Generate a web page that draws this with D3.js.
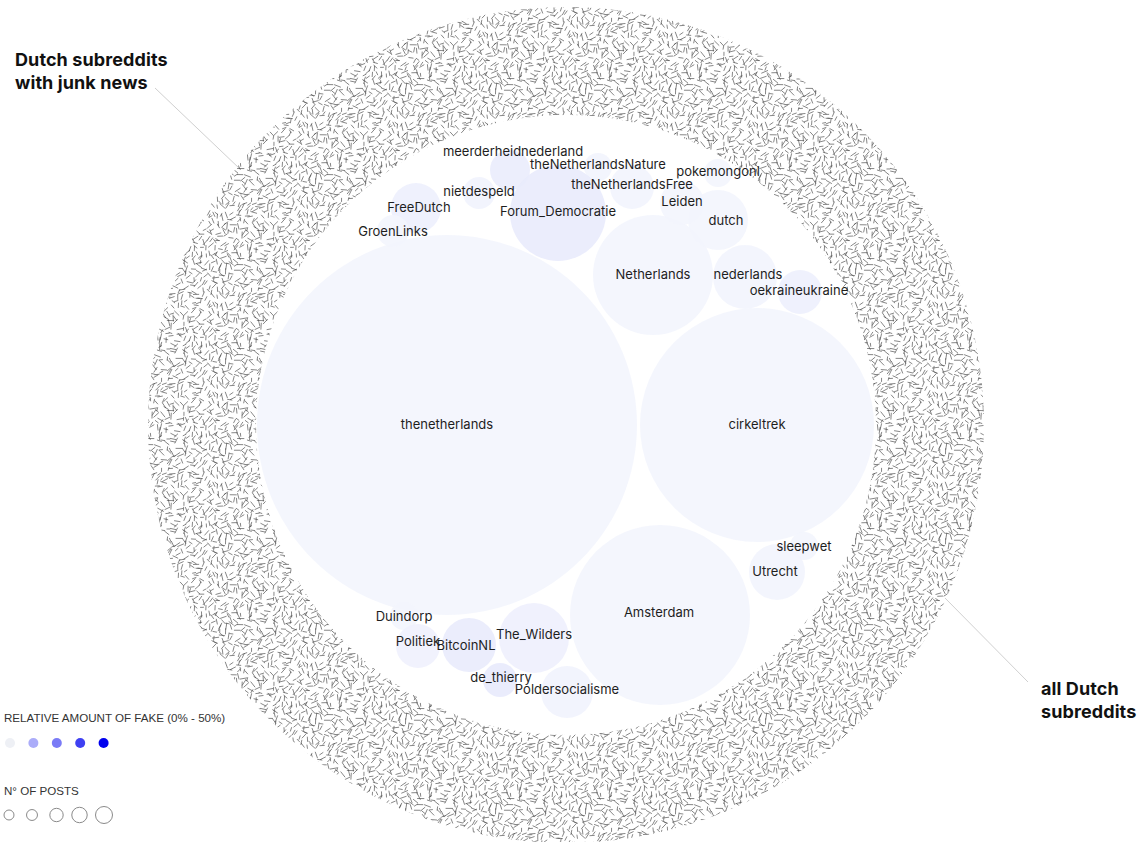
<!DOCTYPE html>
<html>
<head>
<meta charset="utf-8">
<script src="https://cdn.jsdelivr.net/npm/d3@7"></script>
<style>
  body { margin: 0; background: #fff; }
  svg { display: block; }
  .lbl { font-family: Inter, "Open Sans", sans-serif; font-size: 13px; fill: #1e1e1e; }
  .title { font-family: Inter, sans-serif; font-weight: 700; font-size: 18px; fill: #111; letter-spacing: 0.1px; }
  .legend { font-family: "Liberation Sans", Arial, sans-serif; font-size: 11.6px; fill: #333; }
</style>
</head>
<body>
<div id="chart"></div>
<script>

// subreddits (layout units: offset from centre of the inner circle)
var names = ["thenetherlands","cirkeltrek","Amsterdam","Netherlands","nederlands","oekraineukraine",
  "dutch","Leiden","pokemongonl","theNetherlandsFree","theNetherlandsNature","meerderheidnederland",
  "Forum_Democratie","nietdespeld","FreeDutch","GroenLinks","Duindorp","Politiek","BitcoinNL",
  "The_Wilders","de_thierry","Poldersocialisme","sleepwet","Utrecht"]
var circleX = [-119, 191, 94, 87, 179, 234, 152, 116, 152, 66, 32, -56, -8, -87, -150, -173, -162, -148, -97, -32, -66, 1, 238, 211]
var circleY = [0, 0, 190, -150, -148, -133, -205, -222, -252, -238, -258, -255, -212, -232, -217, -194, 191, 221, 220, 213, 255, 267, 121, 147]
var size    = [190, 117, 90, 60, 32, 22, 30, 22, 14, 22, 14, 20, 48, 16, 25, 16, 14, 22, 27, 35, 17, 26, 14, 28]
var fake    = [0.3, 0.3, 0.3, 0.3, 0.5, 1.5, 0.3, 0.3, 0.3, 0.4, 0.4, 2, 2.2, 0.6, 1.5, 0.3, 0.3, 1, 2.2, 1.2, 2.5, 0.7, 0.3, 0.5]
var labelX  = [-119, 191, 93, 87, 182, 233, 160, 116, 152, 66, 32, -53, -8, -87, -147, -173, -162, -148, -100, -32, -65, 1, 238, 209]
var labelY  = [-1, -1, 187, -151, -151, -135, -205, -224, -254, -241, -261, -274, -214, -234, -218, -194, 191, 216, 220, 209, 252, 264, 121, 146]

var legendFake = [0, 15, 25, 37, 50]
var legendPosts = [10, 12, 18, 24, 29]

var width = 1143, height = 842
var cx = 566, cy = 425, innerR = 310, outerR = 418

var svg = d3.select("#chart").append("svg")
  .attr("width", width)
  .attr("height", height)

// seeded generator so the ring texture is the same every run
function mulberry32(a) {
  return function() {
    a |= 0; a = a + 0x6D2B79F5 | 0
    var t = Math.imul(a ^ a >>> 15, 1 | a)
    t = t + Math.imul(t ^ t >>> 7, 61 | t) ^ t
    return ((t ^ t >>> 14) >>> 0) / 4294967296
  }
}
var rnd = mulberry32(20190412)
var tile = 90, cell = 5
var defs = svg.append("defs")
var pat = defs.append("pattern")
  .attr("id", "dashes")
  .attr("patternUnits", "userSpaceOnUse")
  .attr("width", tile).attr("height", tile)
// one short dash per grid cell, jittered, so the ring reads evenly
for (var gx = 0; gx < tile; gx += cell) {
  for (var gy = 0; gy < tile; gy += cell) {
    var px = gx + rnd() * cell, py = gy + rnd() * cell
    var a = rnd() * Math.PI, len = 3 + rnd() * 3.5
    var dx = Math.cos(a) * len / 2, dy = Math.sin(a) * len / 2
    for (var ox = -tile; ox <= tile; ox += tile) {
      for (var oy = -tile; oy <= tile; oy += tile) {
        if (px + ox < -5 || px + ox > tile + 5 || py + oy < -5 || py + oy > tile + 5) continue
        pat.append("line")
          .attr("x1", px - dx + ox).attr("y1", py - dy + oy)
          .attr("x2", px + dx + ox).attr("y2", py + dy + oy)
          .attr("stroke", "#444")
          .attr("stroke-width", 0.65)
          .attr("stroke-linecap", "round")
      }
    }
  }
}

// leader lines
svg.append("line")
  .attr("x1", 155).attr("y1", 88).attr("x2", 240).attr("y2", 169)
  .attr("stroke", "#d0d0d0").attr("stroke-width", 1)
svg.append("line")
  .attr("x1", 945).attr("y1", 598).attr("x2", 1028).attr("y2", 682)
  .attr("stroke", "#d0d0d0").attr("stroke-width", 1)

// outer ring
svg.append("circle")
  .attr("cx", cx).attr("cy", cy).attr("r", outerR)
  .attr("fill", "url(#dashes)")
svg.append("circle")
  .attr("cx", cx).attr("cy", cy).attr("r", innerR)
  .attr("fill", "#fff")

var x = d3.scaleLinear().domain([-innerR, innerR]).range([cx - innerR, cx + innerR])
var y = d3.scaleLinear().domain([-innerR, innerR]).range([cy - innerR, cy + innerR])
var r = d3.scaleLinear().domain([0, innerR]).range([0, innerR])
var color = d3.scaleLinear().domain([0, 50]).range(["#f4f6fd", "#0000ee"])

var data = names.map(function(d, i) {
  return {name: d, x: circleX[i], y: circleY[i], size: size[i], fake: fake[i], lx: labelX[i], ly: labelY[i]}
})

var g = svg.append("g")
g.selectAll("circle")
  .data(data)
  .enter()
  .append("circle")
    .attr("cx", function(d) { return x(d.x) })
    .attr("cy", function(d) { return y(d.y) })
    .attr("r", function(d) { return r(d.size) })
    .attr("fill", function(d) { return color(d.fake) })
    .attr("fill-opacity", 0.9)

g.selectAll("text")
  .data(data)
  .enter()
  .append("text")
    .attr("class", "lbl")
    .attr("x", function(d) { return x(d.lx) })
    .attr("y", function(d) { return y(d.ly) })
    .attr("dy", "0.35em")
    .attr("text-anchor", "middle")
    .text(function(d) { return d.name })

// titles
var t1 = svg.append("text").attr("class", "title").attr("x", 15).attr("y", 66)
t1.append("tspan").attr("x", 15).text("Dutch subreddits")
t1.append("tspan").attr("x", 15).attr("dy", 23).text("with junk news")
var t2 = svg.append("text").attr("class", "title").attr("x", 1041).attr("y", 695)
t2.append("tspan").attr("x", 1041).text("all Dutch")
t2.append("tspan").attr("x", 1041).attr("dy", 23).text("subreddits")

// legend
svg.append("text").attr("class", "legend").attr("x", 4).attr("y", 722)
  .text("RELATIVE AMOUNT OF FAKE (0% - 50%)")
var lx = d3.scaleBand().domain(d3.range(5)).range([0, 117]).padding(0)
svg.selectAll(".fakedot")
  .data(legendFake)
  .enter()
  .append("circle")
    .attr("class", "fakedot")
    .attr("cx", function(d, i) { return lx(i) + 10 })
    .attr("cy", 743)
    .attr("r", 5)
    .attr("fill", function(d, i) { return i == 0 ? "#eef0f5" : color(d) })

svg.append("text").attr("class", "legend").attr("x", 4).attr("y", 795)
  .text("N° OF POSTS")
var ps = d3.scaleSqrt().domain([0, 29]).range([0, 8.5])
var postX = [9, 32, 56.5, 79.5, 104]
svg.selectAll(".postdot")
  .data(legendPosts)
  .enter()
  .append("circle")
    .attr("class", "postdot")
    .attr("cx", function(d, i) { return postX[i] })
    .attr("cy", 815)
    .attr("r", function(d) { return ps(d) })
    .attr("fill", "none")
    .attr("stroke", "#8a8a8a")
    .attr("stroke-width", 1)

</script>
</body>
</html>
